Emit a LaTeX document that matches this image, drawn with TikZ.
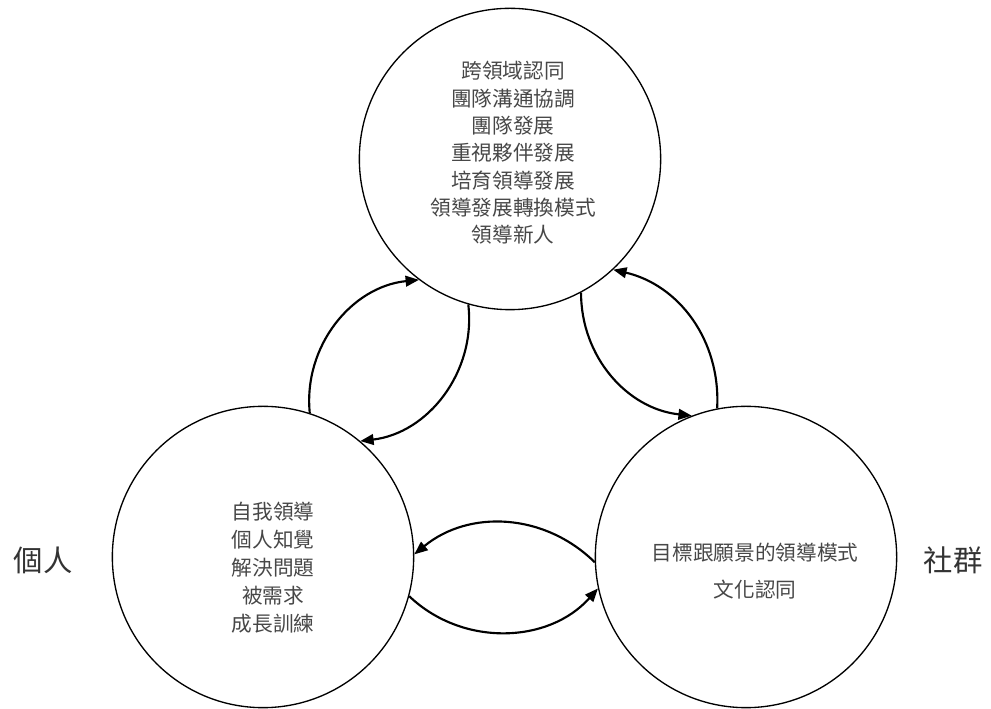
\documentclass[tikz,border=0pt]{standalone}
\usepackage{fontspec}
\setmainfont{Noto Sans CJK TC}
\usetikzlibrary{arrows.meta,positioning,calc}
\tikzset{
  ring/.style={draw,circle,line width=1pt,minimum size=226pt,inner sep=0pt},
  txt/.style={align=center,font=\fontsize{15.5pt}{20.5pt}\selectfont,text=black!72},
  side/.style={font=\fontsize{22pt}{26pt}\selectfont,text=black!80},
  arr/.style={-{Triangle[length=10pt,width=8pt]},line width=1.6pt}
}

\begin{document}
\begin{tikzpicture}[x=0.75pt,y=0.75pt]
  \useasboundingbox (0,0) rectangle (991,709);

  \node[ring] (team) at (510,550) {};
  \node[ring] (self) at (263,152) {};
  \node[ring] (comm) at (746,152) {};

  \node[txt] (teamtxt) at ($(team)+(3,6)$) {跨領域認同\\團隊溝通協調\\團隊發展\\重視夥伴發展\\培育領導發展\\領導發展轉換模式\\領導新人};
  \node[txt,font=\fontsize{15.5pt}{21pt}\selectfont] (selftxt) at ($(self)+(10,-11)$) {自我領導\\個人知覺\\解決問題\\被需求\\成長訓練};
  \node[txt,font=\fontsize{15.5pt}{27.5pt}\selectfont] (commtxt) at ($(comm)+(9,-14)$) {目標跟願景的領導模式\\文化認同};

  \node[side] (indiv) at (43,149) {個人};
  \node[side] (group) at (953,149) {社群};

  \draw[arr] (self.72) to[bend left=45] (team.233);
  \draw[arr] (team.254) to[bend left=45] (self.50);
  \draw[arr] (team.298) to[bend right=42] (comm.111);
  \draw[arr] (comm.101) to[bend right=40] (team.313);
  \draw[arr] (comm.182) to[bend right=42] (self.1);
  \draw[arr] (self.345) to[bend right=46] (comm.192);
\end{tikzpicture}
\end{document}
